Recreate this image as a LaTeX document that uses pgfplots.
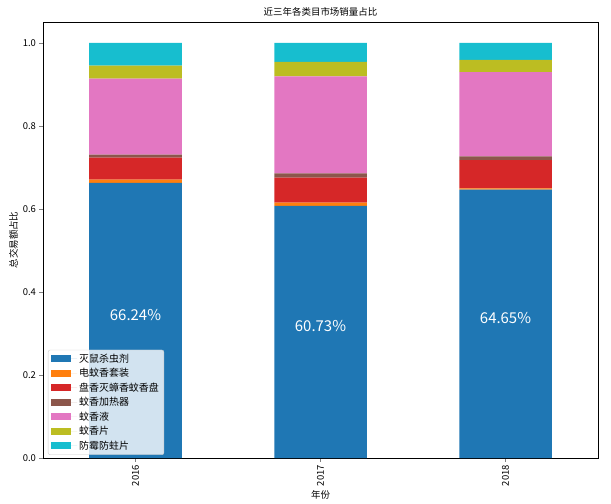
\documentclass[border=0pt]{standalone}
\usepackage{pgfplots}
\pgfplotsset{compat=1.18}
\usepackage{fontspec}
\setmainfont{Noto Sans CJK SC}
\definecolor{c1}{HTML}{1F77B4}
\definecolor{c2}{HTML}{FF7F0E}
\definecolor{c3}{HTML}{D62728}
\definecolor{c4}{HTML}{8C564B}
\definecolor{c5}{HTML}{E377C2}
\definecolor{c6}{HTML}{BCBD22}
\definecolor{c7}{HTML}{17BECF}
\begin{document}
\begin{tikzpicture}[font=\fontsize{9.5}{11}\selectfont]
\begin{axis}[
  scale only axis,
  width=555bp, height=436bp,
  ybar stacked,
  bar width=0.5,
  xmin=-0.5, xmax=2.5,
  ymin=0, ymax=1.05,
  xtick={0,1,2},
  xticklabels={2016,2017,2018},
  x tick label style={rotate=90, anchor=east},
  ytick={0,0.2,0.4,0.6,0.8,1.0},
  yticklabel style={/pgf/number format/.cd, fixed, fixed zerofill, precision=1},
  /pgf/number format/assume math mode=true,
  tick align=outside,
  tick pos=left,
  major tick length=3.5bp,
  title={近三年各类目市场销量占比},
  title style={yshift=-4bp},
  xlabel={年份},
  ylabel={总交易额占比},
  ylabel style={yshift=-2bp},
  xlabel style={yshift=2bp},
  axis line style={black},
  legend style={at={(0.009,0.007)}, anchor=south west, draw=gray!40, fill=white, fill opacity=0.8, text opacity=1, rounded corners=2bp, row sep=0.6bp, font=\fontsize{10}{12}\selectfont},
  legend cell align=left,
  legend image code/.code={\fill[#1, fill opacity=1, sharp corners] (0bp,-3.5bp) rectangle (20bp,3.5bp); \path (0bp,0bp) -- (26bp,0bp);},
]
\addplot[fill=c1, draw=none] coordinates {(0,0.6624) (1,0.6073) (2,0.6465)};
\addplot[fill=c2, draw=none] coordinates {(0,0.0080) (1,0.0080) (2,0.0030)};
\addplot[fill=c3, draw=none] coordinates {(0,0.0530) (1,0.0600) (2,0.0680)};
\addplot[fill=c4, draw=none] coordinates {(0,0.0074) (1,0.0100) (2,0.0090)};
\addplot[fill=c5, draw=none] coordinates {(0,0.1827) (1,0.2337) (2,0.2025)};
\addplot[fill=c6, draw=none] coordinates {(0,0.0315) (1,0.0350) (2,0.0300)};
\addplot[fill=c7, draw=none] coordinates {(0,0.0550) (1,0.0460) (2,0.0410)};
\legend{灭鼠杀虫剂,电蚊香套装,盘香灭蟑香蚊香盘,蚊香加热器,蚊香液,蚊香片,防霉防蛀片}
\coordinate (l1) at (axis cs:0,0.3312);
\coordinate (l2) at (axis cs:1,0.3037);
\coordinate (l3) at (axis cs:2,0.3233);
\end{axis}
\node[white, anchor=base, font=\fontsize{15}{17}\selectfont] at (l1) {66.24\%};
\node[white, anchor=base, font=\fontsize{15}{17}\selectfont] at (l2) {60.73\%};
\node[white, anchor=base, font=\fontsize{15}{17}\selectfont] at (l3) {64.65\%};
\path[use as bounding box] (current axis.south west) ++(-43bp,-46bp) rectangle ++(611bp,504bp);
\end{tikzpicture}
\end{document}
